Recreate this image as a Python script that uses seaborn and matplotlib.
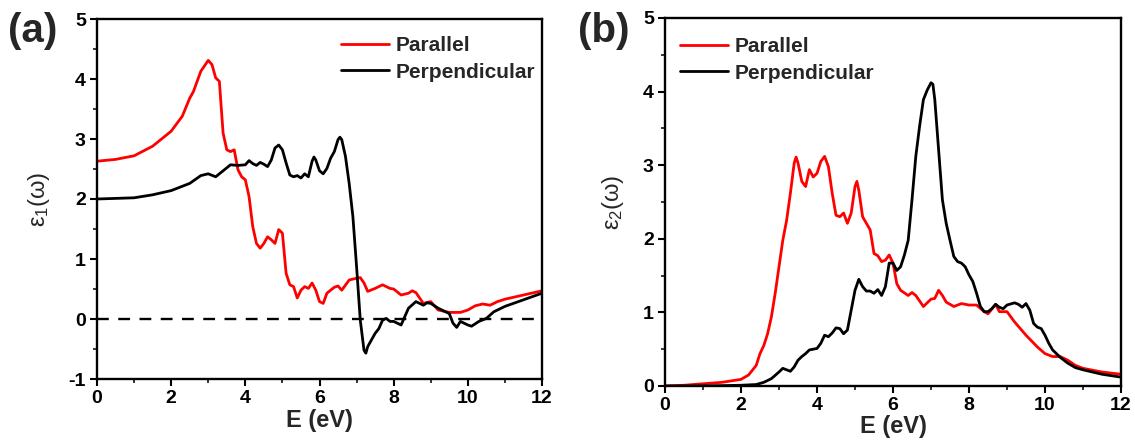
import matplotlib
matplotlib.use("Agg")
import matplotlib.pyplot as plt
import seaborn as sns
import pandas as pd
from matplotlib.ticker import MultipleLocator

# ---------------- data ----------------
# panel (a): eps1, parallel
a_par_E = [0, 0.5, 1.0, 1.5, 2.0, 2.3, 2.5, 2.6, 2.8, 3.0, 3.1, 3.2, 3.3, 3.4, 3.5, 3.6, 3.7, 3.8, 3.9, 4.0,
           4.1, 4.2, 4.3, 4.4, 4.5, 4.6, 4.7, 4.8, 4.9, 5.0, 5.1, 5.2, 5.3, 5.4, 5.5, 5.6, 5.7, 5.8, 5.9, 6.0,
           6.1, 6.2, 6.4, 6.5, 6.6, 6.8, 7.0, 7.1, 7.2, 7.3, 7.5, 7.7, 7.9, 8.0, 8.2, 8.4, 8.5, 8.6, 8.8, 9.0,
           9.2, 9.5, 9.8, 10.0, 10.2, 10.4, 10.6, 10.8, 11.0, 11.5, 12.0]
a_par_v = [2.63, 2.66, 2.72, 2.88, 3.13, 3.38, 3.68, 3.79, 4.13, 4.31, 4.24, 4.02, 3.96, 3.10, 2.82, 2.79, 2.82, 2.49, 2.37, 2.32,
           2.04, 1.54, 1.26, 1.18, 1.26, 1.37, 1.32, 1.26, 1.49, 1.43, 0.76, 0.57, 0.54, 0.35, 0.48, 0.54, 0.51, 0.60, 0.48, 0.29,
           0.26, 0.43, 0.53, 0.55, 0.48, 0.65, 0.68, 0.69, 0.60, 0.46, 0.51, 0.57, 0.51, 0.50, 0.40, 0.43, 0.47, 0.44, 0.26, 0.29,
           0.15, 0.11, 0.11, 0.15, 0.22, 0.25, 0.23, 0.29, 0.33, 0.40, 0.47]
# panel (a): eps1, perpendicular
a_per_E = [0, 1.0, 1.5, 2.0, 2.5, 2.8, 3.0, 3.2, 3.4, 3.6, 3.8, 4.0, 4.1, 4.2, 4.3, 4.4, 4.5, 4.6, 4.7, 4.8,
           4.9, 5.0, 5.1, 5.2, 5.3, 5.4, 5.5, 5.6, 5.7, 5.8, 5.85, 5.9, 6.0, 6.1, 6.2, 6.3, 6.4, 6.5, 6.55, 6.6,
           6.7, 6.8, 6.9, 7.0, 7.1, 7.2, 7.25, 7.3, 7.4, 7.5, 7.6, 7.7, 7.8, 7.9, 8.0, 8.1, 8.2, 8.3, 8.4, 8.6,
           8.8, 8.9, 9.0, 9.2, 9.4, 9.5, 9.6, 9.7, 9.8, 10.0, 10.1, 10.3, 10.5, 10.7, 11.0, 11.5, 12.0]
a_per_v = [2.00, 2.02, 2.07, 2.14, 2.26, 2.39, 2.42, 2.37, 2.47, 2.57, 2.56, 2.57, 2.64, 2.59, 2.56, 2.61, 2.58, 2.54, 2.65, 2.85,
           2.90, 2.82, 2.60, 2.40, 2.37, 2.39, 2.35, 2.42, 2.37, 2.63, 2.70, 2.65, 2.47, 2.42, 2.51, 2.68, 2.79, 2.99, 3.03, 2.99,
           2.71, 2.26, 1.71, 0.87, -0.02, -0.52, -0.57, -0.46, -0.35, -0.24, -0.16, -0.02, 0.01, -0.04, -0.04, -0.07, -0.10, 0.04, 0.18, 0.29,
           0.23, 0.27, 0.26, 0.18, 0.12, 0.09, -0.07, -0.14, -0.04, -0.10, -0.12, -0.04, 0.01, 0.12, 0.21, 0.32, 0.43]

# panel (b): eps2, parallel
b_par_E = [0, 0.5, 1.0, 1.5, 2.0, 2.2, 2.4, 2.5, 2.6, 2.7, 2.8, 2.9, 3.0, 3.1, 3.2, 3.3, 3.4, 3.45, 3.5, 3.6,
           3.7, 3.8, 3.9, 4.0, 4.1, 4.2, 4.3, 4.4, 4.5, 4.6, 4.7, 4.8, 4.9, 5.0, 5.05, 5.1, 5.2, 5.3, 5.4, 5.5,
           5.6, 5.7, 5.8, 5.9, 6.0, 6.1, 6.2, 6.4, 6.5, 6.6, 6.8, 7.0, 7.1, 7.2, 7.3, 7.4, 7.6, 7.8, 8.0, 8.2,
           8.4, 8.5, 8.7, 8.8, 9.0, 9.2, 9.5, 9.8, 10.0, 10.2, 10.4, 10.6, 10.8, 11.0, 11.5, 12.0]
b_par_v = [0.0, 0.01, 0.03, 0.05, 0.09, 0.15, 0.28, 0.44, 0.55, 0.71, 0.94, 1.26, 1.62, 1.98, 2.25, 2.62, 3.03, 3.11, 3.03, 2.78,
           2.71, 2.94, 2.84, 2.89, 3.05, 3.12, 2.98, 2.62, 2.32, 2.30, 2.35, 2.21, 2.35, 2.71, 2.78, 2.66, 2.30, 2.21, 2.12, 1.80,
           1.77, 1.69, 1.71, 1.78, 1.67, 1.39, 1.30, 1.23, 1.27, 1.23, 1.08, 1.18, 1.19, 1.30, 1.23, 1.14, 1.08, 1.12, 1.10, 1.10,
           1.01, 0.98, 1.11, 1.01, 1.01, 0.87, 0.69, 0.53, 0.44, 0.40, 0.40, 0.35, 0.28, 0.24, 0.19, 0.16]
# panel (b): eps2, perpendicular
b_per_E = [0, 1.0, 2.0, 2.4, 2.6, 2.8, 3.0, 3.1, 3.2, 3.3, 3.4, 3.5, 3.6, 3.7, 3.8, 4.0, 4.1, 4.2, 4.3, 4.4,
           4.5, 4.6, 4.7, 4.8, 4.9, 5.0, 5.1, 5.2, 5.3, 5.4, 5.5, 5.6, 5.7, 5.8, 5.9, 6.0, 6.1, 6.2, 6.3, 6.4,
           6.5, 6.6, 6.7, 6.8, 6.9, 7.0, 7.05, 7.1, 7.2, 7.3, 7.4, 7.5, 7.6, 7.7, 7.8, 7.9, 8.0, 8.1, 8.2, 8.3,
           8.4, 8.5, 8.6, 8.7, 8.8, 8.9, 9.0, 9.2, 9.3, 9.4, 9.5, 9.6, 9.7, 9.8, 9.9, 10.0, 10.1, 10.2, 10.4, 10.6,
           10.8, 11.0, 11.5, 12.0]
b_per_v = [0.0, 0.0, 0.01, 0.02, 0.05, 0.10, 0.19, 0.24, 0.22, 0.20, 0.26, 0.35, 0.40, 0.44, 0.49, 0.51, 0.58, 0.69, 0.67, 0.72,
           0.79, 0.78, 0.71, 0.76, 1.03, 1.30, 1.45, 1.35, 1.29, 1.29, 1.26, 1.31, 1.23, 1.35, 1.67, 1.67, 1.57, 1.62, 1.78, 1.98,
           2.53, 3.12, 3.53, 3.89, 4.02, 4.12, 4.10, 3.89, 3.21, 2.53, 2.21, 1.98, 1.76, 1.69, 1.67, 1.62, 1.51, 1.42, 1.26, 1.08,
           1.01, 1.01, 1.05, 1.11, 1.07, 1.05, 1.10, 1.13, 1.11, 1.07, 1.12, 1.03, 0.85, 0.80, 0.78, 0.69, 0.58, 0.49, 0.39, 0.31,
           0.25, 0.22, 0.16, 0.12]

series_names = ["Parallel", "Perpendicular"]
x_ticks = [0, 2, 4, 6, 8, 10, 12]
ya_ticks = [-1, 0, 1, 2, 3, 4, 5]
yb_ticks = [0, 1, 2, 3, 4, 5]

# ---------------- style ----------------
sns.set_style("ticks")
plt.rcParams['font.family'] = ['Liberation Sans', 'DejaVu Sans']
plt.rcParams['mathtext.fontset'] = 'custom'
plt.rcParams['mathtext.rm'] = 'Liberation Sans'
plt.rcParams['mathtext.it'] = 'Liberation Sans'
plt.rcParams['axes.unicode_minus'] = False

palette = {"Parallel": "#ff0000", "Perpendicular": "#000000"}

def make_df(pE, pv, qE, qv):
    d1 = pd.DataFrame({"E": pE, "v": pv, "s": series_names[0]})
    d2 = pd.DataFrame({"E": qE, "v": qv, "s": series_names[1]})
    return pd.concat([d1, d2], ignore_index=True)

dfa = make_df(a_par_E, a_par_v, a_per_E, a_per_v)
dfb = make_df(b_par_E, b_par_v, b_per_E, b_per_v)

W, H = 1135, 442
fig = plt.figure(figsize=(W / 100, H / 100), dpi=100)
axa = fig.add_axes([97 / W, 1 - 379 / H, (542 - 97) / W, (379 - 19) / H])
axb = fig.add_axes([665 / W, 1 - 386 / H, (1121 - 665) / W, (386 - 18) / H])

def style_axis(ax, yticks, ylim, ylabel):
    ax.set_xlim(0, 12)
    ax.set_ylim(*ylim)
    ax.set_xticks(x_ticks)
    ax.set_yticks(yticks)
    ax.xaxis.set_minor_locator(MultipleLocator(1))
    ax.yaxis.set_minor_locator(MultipleLocator(0.5))
    for sp in ax.spines.values():
        sp.set_visible(True)
        sp.set_linewidth(1.7)
        sp.set_color("black")
    ax.tick_params(axis="both", which="major", direction="out", length=5, width=1.5,
                   labelsize=14, pad=3, top=False, right=False, colors="black")
    ax.tick_params(axis="both", which="minor", direction="out", length=3, width=1.3,
                   top=False, right=False)
    for lab in ax.get_xticklabels() + ax.get_yticklabels():
        lab.set_fontweight("bold")
    ax.set_xlabel("E (eV)", fontsize=17, fontweight="bold", labelpad=1)
    ax.set_ylabel(ylabel, fontsize=17, labelpad=12)
    ax.grid(False)

sns.lineplot(data=dfa, x="E", y="v", hue="s", palette=palette, ax=axa,
             linewidth=2.0, estimator=None, sort=False)
axa.axhline(0, color="black", linestyle=(0, (5, 4)), linewidth=1.7, zorder=0)
style_axis(axa, ya_ticks, (-1, 5), r"$\epsilon_1$(ω)")
axa.legend(loc="upper left", bbox_to_anchor=(0.53, 0.975), frameon=False,
           prop={"weight": "bold", "size": 15}, handlelength=2.3, handletextpad=0.3,
           labelspacing=0.35, borderaxespad=0)

sns.lineplot(data=dfb, x="E", y="v", hue="s", palette=palette, ax=axb,
             linewidth=2.0, estimator=None, sort=False)
style_axis(axb, yb_ticks, (0, 5), r"$\epsilon_2$(ω)")
axb.legend(loc="upper left", bbox_to_anchor=(0.015, 0.97), frameon=False,
           prop={"weight": "bold", "size": 15}, handlelength=2.3, handletextpad=0.3,
           labelspacing=0.35, borderaxespad=0)

fig.text(8 / W, 1 - 12 / H, "(a)", fontsize=29, fontweight="bold", va="top", ha="left")
fig.text(578 / W, 1 - 12 / H, "(b)", fontsize=29, fontweight="bold", va="top", ha="left")

fig.savefig("out.png", dpi=100)
